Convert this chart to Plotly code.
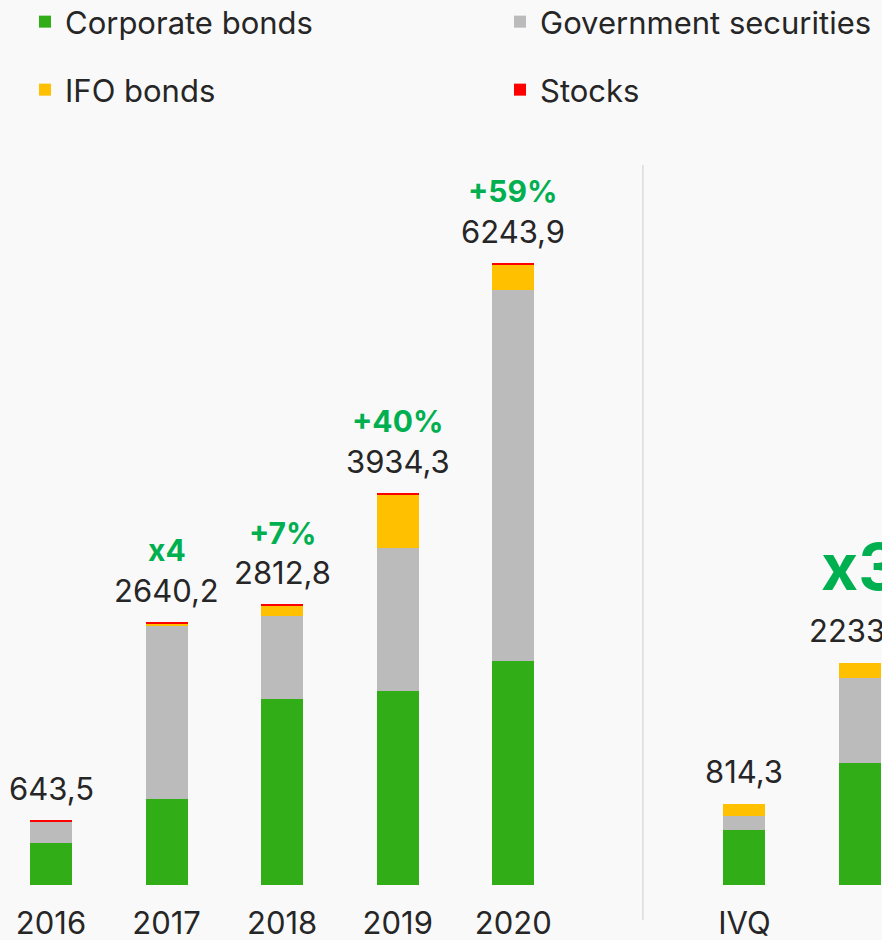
import plotly.graph_objects as go

# ---- data ----
categories = ["2016", "2017", "2018", "2019", "2020", "IVQ", "IVQ"]
positions = [0, 1, 2, 3, 4, 6, 7]
corporate_bonds = [418.0, 862.0, 1865.0, 1950.0, 2248.0, 556.0, 1222.0]
government_securities = [215.0, 1743.2, 840.0, 1430.0, 3724.0, 133.0, 855.0]
ifo_bonds = [0.0, 20.0, 97.8, 540.0, 261.9, 125.3, 156.6]
stocks = [10.5, 15.0, 10.0, 14.3, 10.0, 0.0, 0.0]
growth_labels = ["", "x4", "+7%", "+40%", "+59%", "", "x3"]

FONT = "Inter"
DARK = "#262626"
GREEN_TXT = "#00b050"
BG = "#f9f9f9"

W, H = 882, 940

fig = go.Figure()
series = [
    ("Corporate bonds", corporate_bonds, "#30ad17", "legend", 25, 22),
    ("Government securities", government_securities, "#bbbbbb", "legend2", 500, 22),
    ("IFO bonds", ifo_bonds, "#ffc000", "legend3", 25, 90),
    ("Stocks", stocks, "#ff0000", "legend4", 500, 90),
]
legend_layouts = {}
for name, vals, col, lg, lx, ly in series:
    fig.add_trace(go.Bar(
        x=positions, y=vals, name=name, width=0.3634,
        marker=dict(color=col, line=dict(width=0)),
        legend=lg, hoverinfo="skip",
    ))
    legend_layouts[lg] = dict(
        orientation="h", xref="container", yref="container",
        x=lx / W, y=1 - ly / H, xanchor="left", yanchor="middle",
        font=dict(family=FONT, size=31, color=DARK),
        bgcolor="rgba(0,0,0,0)", itemclick=False, itemdoubleclick=False,
    )

totals = [a + b + c + d for a, b, c, d in zip(corporate_bonds, government_securities, ifo_bonds, stocks)]

annotations = []
for i, (p, t) in enumerate(zip(positions, totals)):
    annotations.append(dict(
        x=p, y=t, xref="x", yref="y", text=f"{t:.1f}".replace(".", ","),
        showarrow=False, yanchor="middle", yshift=32,
        font=dict(family=FONT, size=31, color=DARK),
    ))
    g = growth_labels[i]
    if g:
        big = g == "x3"
        annotations.append(dict(
            x=p, y=t, xref="x", yref="y", text=f"<b>{g}</b>",
            showarrow=False, yanchor="middle", yshift=96 if big else 72,
            font=dict(family=FONT, size=64 if big else 30, color=GREEN_TXT),
        ))

fig.update_layout(
    width=W, height=H,
    margin=dict(l=0, r=0, t=130, b=55, autoexpand=False),
    paper_bgcolor=BG, plot_bgcolor=BG,
    barmode="stack",
    bargap=0,
    font=dict(family=FONT, size=31, color=DARK),
    xaxis=dict(
        range=[-0.4413, 7.1904], tickvals=positions, ticktext=categories,
        showgrid=False, zeroline=False, showline=False, ticks="",
        tickfont=dict(family=FONT, size=31, color=DARK),
        ticklabelstandoff=17, fixedrange=True, automargin=False,
    ),
    yaxis=dict(range=[0, 7582.6], visible=False, showgrid=False, zeroline=False,
               fixedrange=True, automargin=False),
    annotations=annotations,
    shapes=[dict(
        type="line", xref="x", yref="paper", x0=5.122, x1=5.122,
        y0=(885 - 165) / 755, y1=(885 - 920) / 755,
        line=dict(color="#cccccc", width=1),
    )],
    showlegend=True,
    **legend_layouts,
)

fig.write_html(
    "out.html",
    config={"displayModeBar": False},
    post_script="document.body.style.margin='0';document.body.style.background='%s';" % BG,
)
